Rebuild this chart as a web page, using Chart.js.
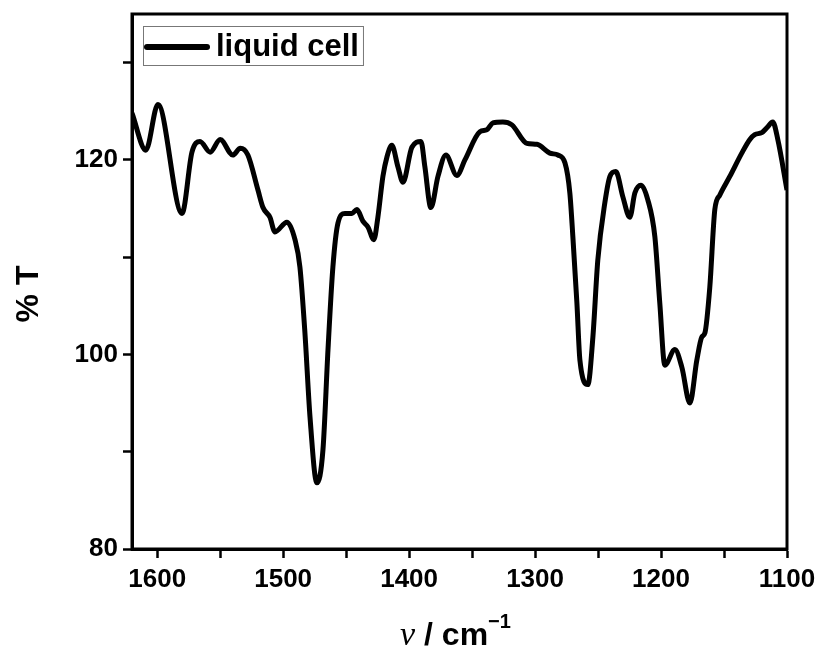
<!DOCTYPE html>
<html>
<head>
<meta charset="utf-8">
<script src="https://cdn.jsdelivr.net/npm/chart.js@4.4.1/dist/chart.umd.min.js"></script>
<style>
  html, body { margin: 0; padding: 0; background: #fff; }
  #wrap { width: 819px; height: 652px; }
</style>
</head>
<body>
<div id="wrap"><canvas id="irChart" width="819" height="652"></canvas></div>
<script>
// IR spectrum, liquid cell (wavenumber in cm^-1, transmittance in %)
const seriesLabel = 'liquid cell';
const wavenumber = [
    1620, 1609, 1599.4, 1580.3, 1572.4, 1566, 1558, 1550, 1540, 1534, 1528,
    1520, 1516, 1510.5, 1506.5, 1497, 1490.6, 1486.7, 1482.7, 1478.7, 1473.2,
    1468.4, 1464.4, 1460.5, 1456.5, 1451, 1445.4, 1441.4, 1436.7, 1432.7, 1428,
    1424.8, 1420.8, 1417.6, 1413.7, 1408.9, 1404.9, 1397.8, 1390.6, 1387.5,
    1382.7, 1377.1, 1370.8, 1362.1, 1355.7, 1343.8, 1338.3, 1333.5, 1325.6,
    1318.4, 1306.5, 1298.6, 1288.3, 1281.9, 1276.3, 1272.4, 1270, 1266.8,
    1264.4, 1258.1, 1254.1, 1250.2, 1244.6, 1240.6, 1235.9, 1230.3, 1224.8,
    1220.8, 1216, 1210.5, 1204.9, 1201, 1197, 1189, 1183.5, 1177.1, 1171.6,
    1167.6, 1165.2, 1161.3, 1157.3, 1153.3, 1145.4, 1135.9, 1129.5, 1125.6,
    1120, 1116, 1111.3, 1107.3, 1100
];
const transmittance = [
    124.8, 121.0, 125.7, 114.5, 120.8, 121.9, 120.8, 122.1, 120.5, 121.2, 120.5,
    116.9, 115.1, 114.1, 112.6, 113.6, 111.8, 109.0, 102.2, 93.6, 86.8,
    90.2, 100.5, 109.0, 113.5, 114.5, 114.5, 114.9, 113.7, 113.1, 111.8,
    114.1, 118.3, 120.3, 121.5, 119.3, 117.7, 121.3, 121.9, 119.3,
    115.1, 118.3, 120.5, 118.4, 120.0, 122.9, 123.1, 123.8, 123.9,
    123.6, 121.7, 121.6, 120.7, 120.5, 119.7, 116.6, 112.1, 105.3,
    99.4, 96.9, 101.8, 109.7, 115.6, 118.3, 118.8, 116.2, 114.1,
    116.6, 117.4, 115.9, 112.1, 105.3, 98.9, 100.5, 98.7, 95.0, 99.4,
    101.8, 102.2, 106.9, 114.9, 116.4, 118.3, 120.7, 122.1, 122.6,
    122.8, 123.3, 123.9, 122.1, 116.9
];

const xRange = [1100, 1620];
const yRange = [80, 135];
// tick marks (labels only on the major ones)
const xTicks = [1600, 1550, 1500, 1450, 1400, 1350, 1300, 1250, 1200, 1150, 1100];
const xMajor = [1600, 1500, 1400, 1300, 1200, 1100];
const yTicks = [80, 90, 100, 110, 120, 130];
const yMajor = [80, 100, 120];

const FONT = '"Liberation Sans", Arial, sans-serif';
Chart.defaults.font.family = FONT;
Chart.defaults.color = '#000';

// frame, legend and axis titles
const framePlugin = {
    id: 'framePlugin',
    afterDraw(chart) {
        const { ctx, chartArea: a } = chart;
        ctx.save();
        ctx.strokeStyle = '#000';
        ctx.lineWidth = 3;
        ctx.strokeRect(a.left, a.top, a.right - a.left, a.bottom - a.top);

        // legend box
        const ds = chart.data.datasets[0];
        ctx.font = 'bold 31px ' + FONT;
        const tw = ctx.measureText(ds.label).width;
        const bx = a.left + 11, by = a.top + 12, bh = 39;
        const textX = bx + 73;
        ctx.lineWidth = 1;
        ctx.strokeStyle = '#777';
        ctx.strokeRect(bx + 0.5, by + 0.5, textX + tw + 4 - bx, bh);
        ctx.strokeStyle = ds.borderColor;
        ctx.lineWidth = 6;
        ctx.lineCap = 'round';
        ctx.beginPath();
        ctx.moveTo(bx + 4, by + 21);
        ctx.lineTo(bx + 64, by + 21);
        ctx.stroke();
        ctx.fillStyle = '#000';
        ctx.textBaseline = 'middle';
        ctx.textAlign = 'left';
        ctx.fillText(ds.label, textX, by + 21);

        // y title
        ctx.save();
        ctx.translate(29, 294);
        ctx.rotate(-Math.PI / 2);
        ctx.textAlign = 'center';
        ctx.font = 'bold 32px ' + FONT;
        ctx.fillText('% T', 0, 0);
        ctx.restore();

        // x title: ν / cm^-1
        const parts = [
            { t: 'ν', f: 'italic 34px "Liberation Serif", serif', dy: 0 },
            { t: ' / cm', f: 'bold 32px ' + FONT, dy: 0 },
            { t: '\u22121', f: 'bold 20px ' + FONT, dy: -17 }
        ];
        let total = 0;
        parts.forEach(p => { ctx.font = p.f; p.w = ctx.measureText(p.t).width; total += p.w; });
        let x = (a.left + a.right) / 2 - total / 2 - 4;
        ctx.textBaseline = 'alphabetic';
        parts.forEach(p => {
            ctx.font = p.f;
            ctx.fillText(p.t, x, 645 + p.dy);
            x += p.w;
        });
        ctx.restore();
    }
};

const ctx = document.getElementById('irChart').getContext('2d');
new Chart(ctx, {
    type: 'line',
    data: {
        datasets: [{
            label: seriesLabel,
            data: wavenumber.map((w, i) => ({ x: w, y: transmittance[i] })),
            borderColor: '#000',
            borderWidth: 5,
            pointRadius: 0,
            fill: false,
            cubicInterpolationMode: 'monotone'
        }]
    },
    options: {
        responsive: false,
        animation: false,
        layout: { padding: { left: 0, top: 14, right: 32, bottom: 0 } },
        plugins: {
            legend: { display: false },
            tooltip: { enabled: false }
        },
        scales: {
            x: {
                type: 'linear',
                reverse: true,
                min: xRange[0],
                max: xRange[1],
                afterBuildTicks: s => { s.ticks = xTicks.map(v => ({ value: v })); },
                afterFit: s => { s.height = 103; s.paddingLeft = 0; s.paddingRight = 0; },
                border: { display: true, color: '#000', width: 3 },
                grid: { drawOnChartArea: false, tickLength: 9, tickWidth: 2.5, tickColor: '#000' },
                ticks: {
                    autoSkip: false,
                    maxRotation: 0,
                    padding: 6,
                    font: { size: 26, weight: 'bold' },
                    callback: v => (xMajor.includes(v) ? v : '')
                }
            },
            y: {
                min: yRange[0],
                max: yRange[1],
                afterBuildTicks: s => { s.ticks = yTicks.map(v => ({ value: v })); },
                afterFit: s => { s.width = 132; s.paddingTop = 0; s.paddingBottom = 0; },
                border: { display: true, color: '#000', width: 3 },
                grid: { drawOnChartArea: false, tickLength: 9, tickWidth: 2.5, tickColor: '#000' },
                ticks: {
                    autoSkip: false,
                    padding: 5,
                    font: { size: 26, weight: 'bold' },
                    callback: v => (yMajor.includes(v) ? v : '')
                }
            }
        }
    },
    plugins: [framePlugin]
});
</script>
</body>
</html>
